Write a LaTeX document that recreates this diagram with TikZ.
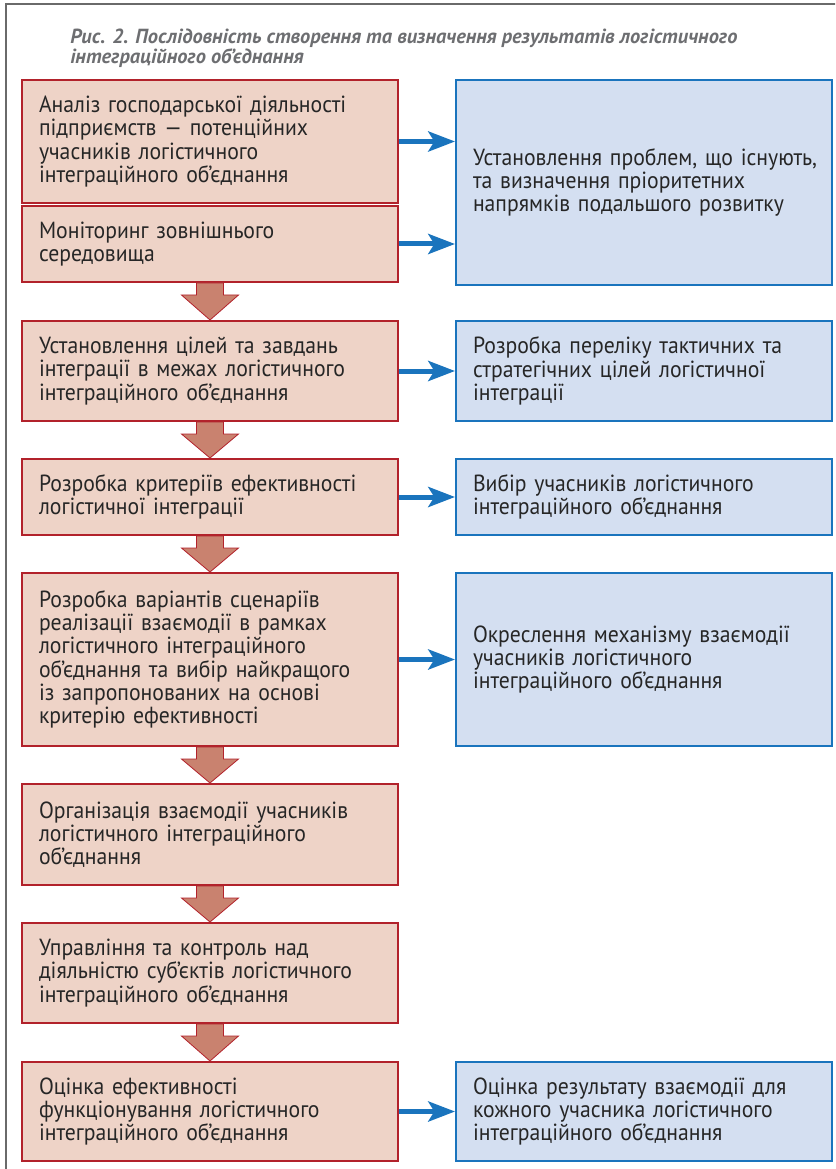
\documentclass[tikz,border=0pt]{standalone}
\usepackage{fontspec}
\setmainfont[FakeStretch=0.93]{PT Sans}
\newfontfamily\titlefont{PT Sans}
\usetikzlibrary{calc,arrows.meta}
\definecolor{redline}{HTML}{B2222B}
\definecolor{redfill}{HTML}{EED3C7}
\definecolor{bluefill}{HTML}{D4DFF1}
\definecolor{blueline}{HTML}{1A74BD}
\definecolor{arrowfill}{HTML}{C9826F}
\definecolor{titlegray}{HTML}{6D6E71}
\definecolor{framegray}{HTML}{6A6A6A}
\newcommand\mydownarrow[2]{%
  \draw[darr] ($(#1.south)+(-13.5,0)$) -- ($(#1.south)+(-13.5,12)$)
    -- ($(#1.south)+(-28.5,12)$) -- (#2.north) -- ($(#1.south)+(28.5,12)$)
    -- ($(#1.south)+(13.5,12)$) -- ($(#1.south)+(13.5,0)$) -- cycle;}
\tikzset{
  boxbase/.style={rectangle, line width=1.5pt, text width=256.5pt,
    inner xsep=12.75pt, inner ysep=0pt, align=left, text=black!85,
    font=\fontsize{17.5}{17.5}\selectfont},
  lbox/.style={boxbase, draw=redline, fill=redfill},
  rbox/.style={boxbase, draw=blueline, fill=bluefill},
  barrow/.style={draw=blueline, line width=3.75pt,
    -{Stealth[length=20pt, width=15pt, inset=4.5pt]}},
  darr/.style={fill=arrowfill, draw=redline, line width=0.6pt},
  titletext/.style={anchor=north west, inner sep=0pt, text=titlegray, align=left,
    font=\titlefont\bfseries\itshape\fontsize{15.3}{13.5}\selectfont},
}
\begin{document}
\begin{tikzpicture}[x=0.75pt,y=-0.75pt]
\useasboundingbox (0,0) rectangle (835,1169);
\clip (0,0) rectangle (835,1169);
\draw[framegray, line width=1.1pt] (6,1180) -- (6,4) -- (850,4);

\node[titletext] (T) at (70,28.5) {Рис. 2. Послідовність створення та визначення результатів логістичного\\ інтеграційного об’єднання};

\node[lbox, minimum height=123*0.75pt] (L1) at (210,141.5) {Аналіз господарської діяльності\\ підприємств — потенційних\\ учасників логістичного\\ інтеграційного об’єднання};
\node[lbox, minimum height=76*0.75pt] (L2) at (210,244) {Моніторинг зовнішнього\\ середовища};
\node[rbox, minimum height=205*0.75pt] (R1) at (644,182.5) {\mbox{Установлення проблем, що існують,}\\ та визначення пріоритетних\\ напрямків подальшого розвитку};

\node[lbox, minimum height=100*0.75pt] (L3) at (210,371) {Установлення цілей та завдань\\ інтеграції в межах логістичного\\ інтеграційного об’єднання};
\node[rbox, minimum height=100*0.75pt] (R3) at (644,371) {Розробка переліку тактичних та\\ стратегічних цілей логістичної\\ інтеграції};

\node[lbox, minimum height=76*0.75pt] (L4) at (210,497) {Розробка критеріїв ефективності\\ логістичної інтеграції};
\node[rbox, minimum height=76*0.75pt] (R4) at (644,497) {Вибір учасників логістичного\\ інтеграційного об’єднання};

\node[lbox, minimum height=173*0.75pt] (L5) at (210,659.5) {Розробка варіантів сценаріїв\\ реалізації взаємодії в рамках\\ логістичного інтеграційного\\ об’єднання та вибір найкращого\\ із запропонованих на основі\\ критерію ефективності};
\node[rbox, minimum height=173*0.75pt] (R5) at (644,659.5) {Окреслення механізму взаємодії\\ учасників логістичного\\ інтеграційного об’єднання};

\node[lbox, minimum height=101*0.75pt] (L6) at (210,834.5) {Організація взаємодії учасників\\ логістичного інтеграційного\\ об’єднання};
\node[lbox, minimum height=100*0.75pt] (L7) at (210,973) {Управління та контроль над\\ діяльністю суб’єктів логістичного\\ інтеграційного об’єднання};
\node[lbox, minimum height=99*0.75pt] (L8) at (210,1111.5) {Оцінка ефективності\\ функціонування логістичного\\ інтеграційного об’єднання};
\node[rbox, minimum height=99*0.75pt] (R8) at (644,1111.5) {Оцінка результату взаємодії для\\ кожного учасника логістичного\\ інтеграційного об’єднання};

\draw[barrow] (L1.east) -- (L1.east -| R1.west);
\draw[barrow] (L2.east) -- (L2.east -| R1.west);
\draw[barrow] (L3.east) -- (R3.west);
\draw[barrow] (L4.east) -- (R4.west);
\draw[barrow] (L5.east) -- (R5.west);
\draw[barrow] (L8.east) -- (R8.west);

\mydownarrow{L2}{L3}
\mydownarrow{L3}{L4}
\mydownarrow{L4}{L5}
\mydownarrow{L5}{L6}
\mydownarrow{L6}{L7}
\mydownarrow{L7}{L8}
\end{tikzpicture}
\end{document}
